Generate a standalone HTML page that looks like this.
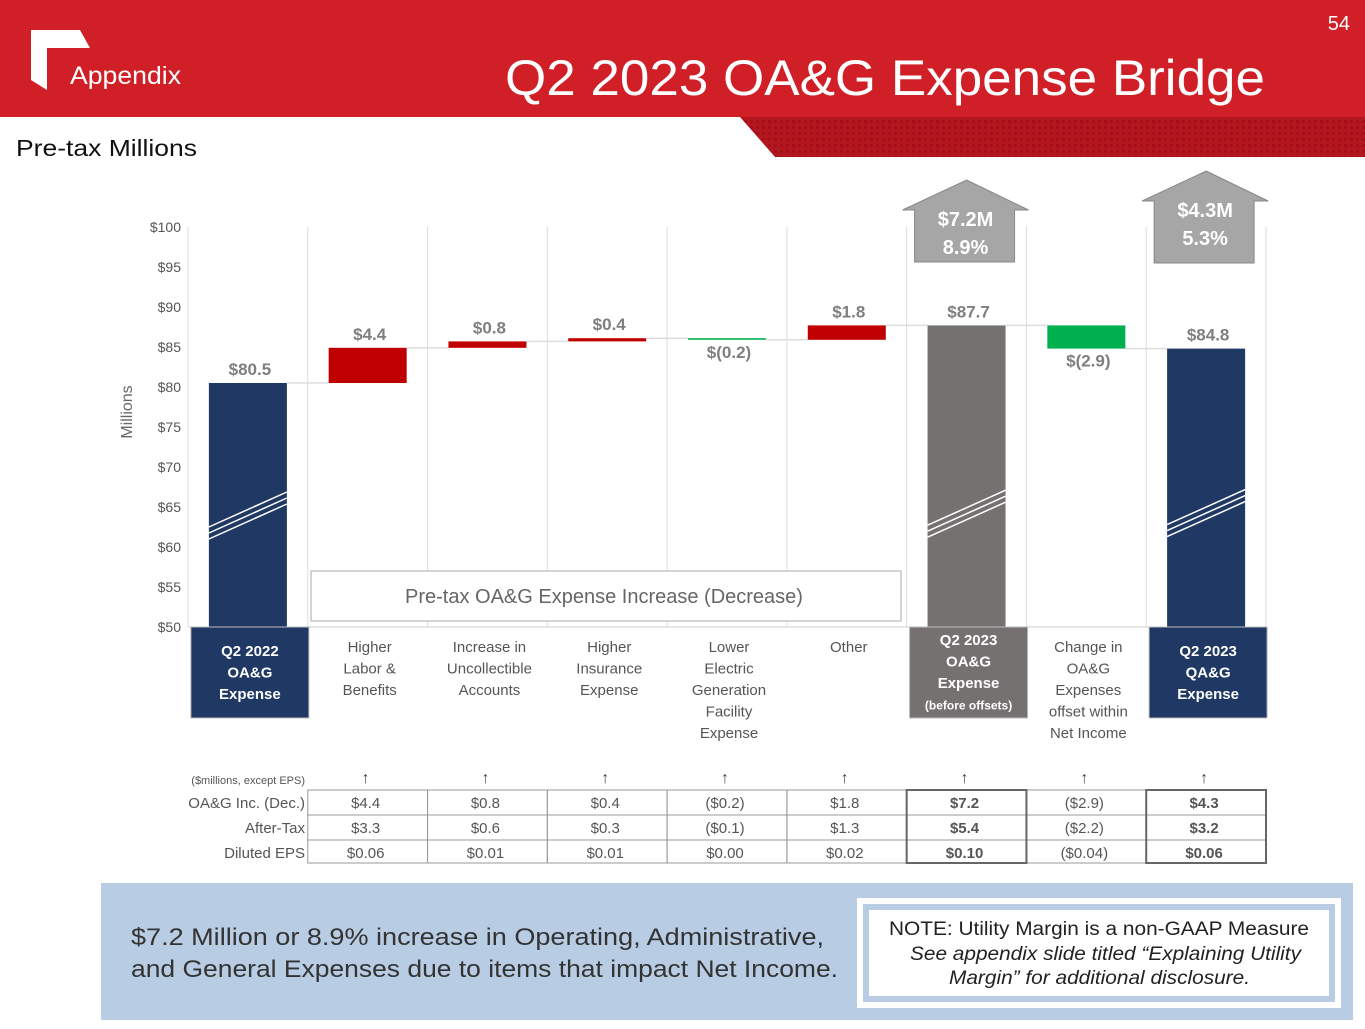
<!DOCTYPE html>
<html><head><meta charset="utf-8"><style>
body{margin:0;width:1365px;height:1024px;overflow:hidden;background:#fff;font-family:"Liberation Sans",sans-serif}
</style></head><body>
<svg width="1365" height="1024" xmlns="http://www.w3.org/2000/svg" font-family="Liberation Sans, sans-serif">
<defs>
<pattern id="tex" width="6" height="6" patternUnits="userSpaceOnUse"><rect width="6" height="6" fill="#b3161e"/><rect width="3" height="3" fill="#a51018"/></pattern>
</defs>
<rect x="0" y="0" width="1365" height="117" fill="#d01f26"/>
<polygon points="740,117 1365,117 1365,157 775,157" fill="url(#tex)"/>
<polygon points="31,30 80,30 90,48 47,48 47,90 31,80" fill="#fff"/>
<text x="70" y="84" font-size="25" fill="#fff" textLength="111" lengthAdjust="spacingAndGlyphs">Appendix</text>
<text x="505" y="95" font-size="50" fill="#fff" textLength="760" lengthAdjust="spacingAndGlyphs">Q2 2023 OA&amp;G Expense Bridge</text>
<text x="1350" y="30" font-size="20" fill="#fff" text-anchor="end">54</text>
<text x="16" y="156" font-size="23" fill="#111" textLength="181" lengthAdjust="spacingAndGlyphs">Pre-tax Millions</text>
<g id="chart"></g>
<rect x="101" y="883" width="1252" height="137" fill="#b8cce4"/>
<text x="131" y="945" font-size="24" fill="#333" textLength="693" lengthAdjust="spacingAndGlyphs">$7.2 Million or 8.9% increase in Operating, Administrative,</text>
<text x="131" y="977" font-size="24" fill="#333" textLength="707" lengthAdjust="spacingAndGlyphs">and General Expenses due to items that impact Net Income.</text>
<rect x="857" y="898" width="484" height="110" fill="#fff"/>
<rect x="866" y="907" width="466" height="92" fill="#fff" stroke="#b8cce4" stroke-width="6"/>
<text x="889" y="935" font-size="19" fill="#222" textLength="420" lengthAdjust="spacingAndGlyphs">NOTE: Utility Margin is a non-GAAP Measure</text>
<text x="910" y="960" font-size="19" fill="#222" font-style="italic" textLength="391" lengthAdjust="spacingAndGlyphs">See appendix slide titled “Explaining Utility</text>
<text x="949" y="984" font-size="19" fill="#222" font-style="italic" textLength="301" lengthAdjust="spacingAndGlyphs">Margin” for additional disclosure.</text>
</svg>
<script>
const categories=[["Q2 2022","OA&G","Expense"],["Higher","Labor &","Benefits"],["Increase in","Uncollectible","Accounts"],["Higher","Insurance","Expense"],["Lower","Electric","Generation","Facility","Expense"],["Other"],["Q2 2023","OA&G","Expense","(before offsets)"],["Change in","OA&G","Expenses","offset within","Net Income"],["Q2 2023","QA&G","Expense"]];
const values=[80.5,4.4,0.8,0.4,-0.2,1.8,87.7,-2.9,84.8];
const kinds=["total","delta","delta","delta","delta","delta","total","delta","total"];
const valueLabels=["$80.5","$4.4","$0.8","$0.4","$(0.2)","$1.8","$87.7","$(2.9)","$84.8"];
const yTicks=[50,55,60,65,70,75,80,85,90,95,100];
const tableRows=["OA&G Inc. (Dec.)","After-Tax","Diluted EPS"];
const tableVals=[["$4.4","$0.8","$0.4","($0.2)","$1.8","$7.2","($2.9)","$4.3"],["$3.3","$0.6","$0.3","($0.1)","$1.3","$5.4","($2.2)","$3.2"],["$0.06","$0.01","$0.01","$0.00","$0.02","$0.10","($0.04)","$0.06"]];
const arrowLabels=[["$7.2M","8.9%"],["$4.3M","5.3%"]];

const NS="http://www.w3.org/2000/svg";
const g=document.getElementById('chart');
const X0=188,X1=1266,Y0=627,Y1=227,VMIN=50,VMAX=100;
const bw=(X1-X0)/categories.length;
const y=v=>Y0-(v-VMIN)/(VMAX-VMIN)*(Y0-Y1);
const cx=i=>X0+bw*(i+0.5);
function el(t,a,txt){const e=document.createElementNS(NS,t);for(const k in a)e.setAttribute(k,a[k]);if(txt!=null)e.textContent=txt;g.appendChild(e);return e;}
for(let i=0;i<=categories.length;i++){const l=el('line',{x1:X0+bw*i,x2:X0+bw*i,y1:Y1,y2:Y0,stroke:'#ddd'});

}
el('line',{x1:X0,x2:X1,y1:Y0,y2:Y0,stroke:'#ccc'});
yTicks.forEach(t=>{const e=el('text',{x:181,y:y(t)+5,'font-size':14,fill:'#555','text-anchor':'end'},'$'+t);

});
const yt=el('text',{x:132,y:412,'font-size':16,fill:'#666','text-anchor':'middle',transform:'rotate(-90 132 412)'},'Millions');


const pb=el('rect',{x:311,y:571,width:590,height:50,fill:'#fff',stroke:'#aaa'});


const pt=el('text',{x:604,y:603,'font-size':20,fill:'#666','text-anchor':'middle'},'Pre-tax OA&G Expense Increase (Decrease)');


let run=0;const totColors=['#1f3864','','','','','','#767171','','#1f3864'];
values.forEach((v,i)=>{
 let top,bot,col;
 const w=78,x=cx(i)-w/2;
 if(kinds[i]==='total'){run=v;top=y(v);bot=Y0;col=totColors[i];}
 else{const a=run,b=run+v;run=b;top=y(Math.max(a,b));bot=y(Math.min(a,b));col=v>=0?'#c00000':'#00b050';}
 const h=Math.max(bot-top,1.5);
 const r=el('rect',{x:x,y:top,width:w,height:h,fill:col});
 
 
 if(kinds[i]==='total'){[0,6,12].forEach(o=>{el('line',{x1:x,y1:527+o-i*0.3,x2:x+w,y2:492+o-i*0.3,stroke:'#fff','stroke-width':1.5});});}
 if(i<values.length-1){const c=el('line',{x1:x+w,x2:cx(i+1)-39,y1:y(run),y2:y(run),stroke:'#ddd','stroke-width':1.5});
 
 }
 const ly=(kinds[i]==='delta'&&v<0)?bot+18:top-8;
 const t=el('text',{x:cx(i)+2,y:ly,'font-size':17,'font-weight':'bold',fill:'#7f7f7f','text-anchor':'middle'},valueLabels[i]);
 
 
 const lines=categories[i];
 if(kinds[i]==='total'){const bx=el('rect',{x:cx(i)-57,y:627,width:118,height:91,fill:totColors[i],stroke:'#bbb'});
  
  }
 const startY=kinds[i]==='total'?(lines.length>3?645:656):652;
 lines.forEach((s,j)=>{const ct=el('text',{x:cx(i)+2,y:startY+j*21.5,'font-size':(j==3&&kinds[i]==='total')?12:15,'font-weight':kinds[i]==='total'?'bold':'normal',fill:kinds[i]==='total'?'#fff':'#555','text-anchor':'middle'},s);
  
  });
});
[[6,180,262],[8,171,263]].forEach((a,k)=>{const c=cx(a[0]);
 const p=el('polygon',{points:`${c},${a[1]} ${c+62},${a[1]+30} ${c+48},${a[1]+30} ${c+48},${a[2]} ${c-52},${a[2]} ${c-52},${a[1]+30} ${c-64},${a[1]+30}`,fill:'#a6a6a6',stroke:'#888'});
 
 
 arrowLabels[k].forEach((s,j)=>{const t=el('text',{x:c-1,y:a[1]+46+j*28,'font-size':20,'font-weight':'bold',fill:'#fff','text-anchor':'middle'},s);
 
 });});
const th=el('text',{x:305,y:784,'font-size':11,fill:'#555','text-anchor':'end'},'($millions, except EPS)');


const rowY=[790,815,840],rowH=[25,25,23];
tableRows.forEach((r,ri)=>{const t=el('text',{x:305,y:rowY[ri]+18,'font-size':15,fill:'#555','text-anchor':'end'},r);
 
 
 tableVals[ri].forEach((v,ci)=>{const i=ci+1;const cell=el('rect',{x:X0+bw*i,y:rowY[ri],width:bw,height:rowH[ri],fill:'none',stroke:'#999'});
  
  
  const bold=(i==6||i==8);
  const tt=el('text',{x:cx(i)-2,y:rowY[ri]+18,'font-size':15,fill:'#555','font-weight':bold?'bold':'normal','text-anchor':'middle'},v);
  
  });});
for(let i=1;i<=8;i++){const a=el('text',{x:cx(i)-2,y:783,'font-size':16,'font-weight':'bold',fill:'#444','text-anchor':'middle'},'↑');
 
 }
[6,8].forEach(i=>{const r=el('rect',{x:X0+bw*i,y:790,width:bw,height:73,fill:'none',stroke:'#666','stroke-width':2});
 
 });
</script>
</body></html>
